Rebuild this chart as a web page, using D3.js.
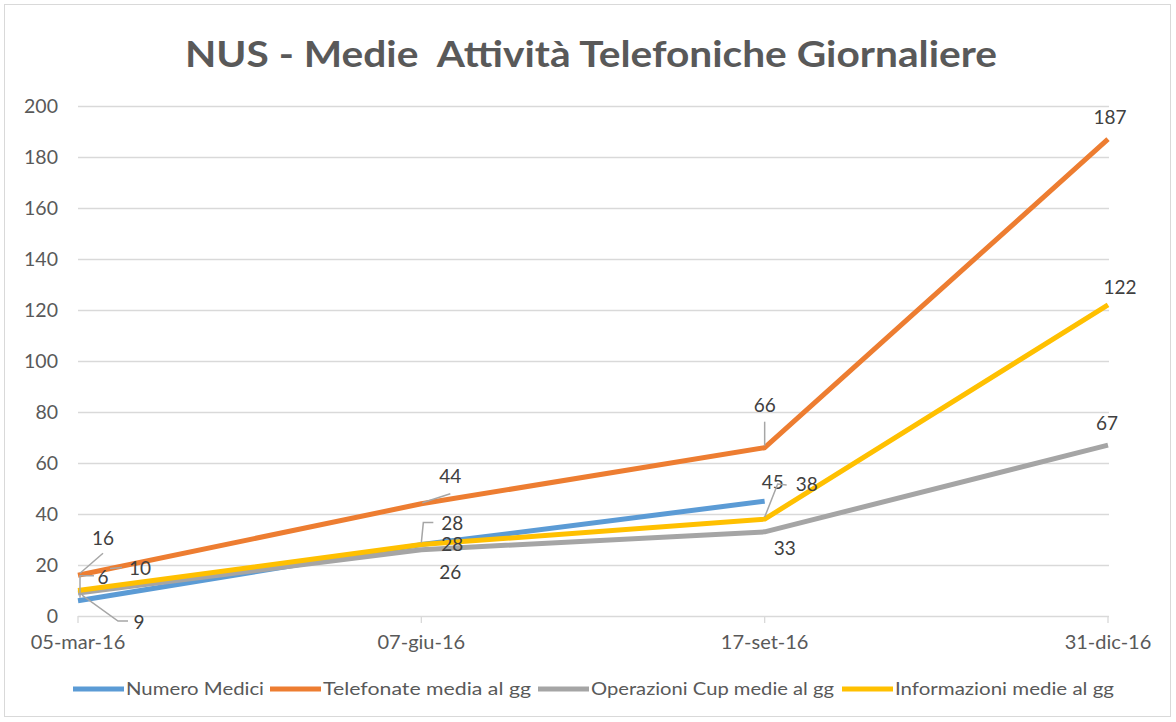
<!DOCTYPE html>
<html><head><meta charset="utf-8">
<script src="https://cdn.jsdelivr.net/npm/d3@7/dist/d3.min.js"></script>
<style>
html,body{margin:0;padding:0;background:#fff;}
svg{display:block;font-family:Lato,"Open Sans",sans-serif;}
</style></head>
<body>
<svg id="c" width="1176" height="722"></svg>
<script>
const categories = ["05-mar-16","07-giu-16","17-set-16","31-dic-16"];
const yTicks = [0,20,40,60,80,100,120,140,160,180,200];
const seriesNames = ["Numero Medici","Telefonate media al gg","Operazioni Cup medie al gg","Informazioni medie al gg"];
const numeroMedici = [6,28,45,null];
const telefonate = [16,44,66,187];
const operazioniCup = [9,26,33,67];
const informazioni = [10,28,38,122];
const title = "NUS - Medie  Attività Telefoniche Giornaliere";

const colors = ["#5B9BD5","#ED7D31","#A5A5A5","#FFC000"];
const allValues = [numeroMedici, telefonate, operazioniCup, informazioni];

// label placement offsets (dx,dy of label centre from point) and leader lines (relative to point)
const labelCfg = {
  "0-0":{dx:25,dy:-23,leader:[[2,-3],[2,-25],[16,-25]]},
  "0-1":{dx:31,dy:-21,leader:[[0,-2],[2,-22],[12,-22]]},
  "0-2":{dx:8,dy:-19},
  "1-0":{dx:25,dy:-37,leader:[[2,-2],[25,-22]]},
  "1-1":{dx:29,dy:-27,leader:[[1,-1],[29,-10]]},
  "1-2":{dx:0,dy:-42,leader:[[0,-2],[0,-26]]},
  "1-3":{dx:2,dy:-22},
  "2-0":{dx:61,dy:29,leader:[[4,2],[40,28],[50,28]]},
  "2-1":{dx:29,dy:23},
  "2-2":{dx:20,dy:16},
  "2-3":{dx:-1,dy:-22},
  "3-0":{dx:62,dy:-22,leader:[[32,-22],[44,-23]]},
  "3-1":{dx:31,dy:0},
  "3-2":{dx:42,dy:-35,leader:[[0,-2],[13,-35],[22,-34]]},
  "3-3":{dx:12,dy:-18}
};

const svg = d3.select("#c");
svg.append("rect").attr("x",4.5).attr("y",4.5).attr("width",1166).attr("height",712)
  .attr("fill","#fff").attr("stroke","#d9d9d9").attr("stroke-width",1);

const x = d3.scalePoint().domain(categories).range([78,1108]);
const y = d3.scaleLinear().domain([0,200]).range([616,106]);

// title
svg.append("text").attr("x",591).attr("y",67).attr("text-anchor","middle")
  .attr("font-size",37).attr("font-weight","bold").attr("fill","#595959")
  .attr("textLength",812).attr("lengthAdjust","spacingAndGlyphs")
  .attr("xml:space","preserve").text(title);

// gridlines
svg.append("g").selectAll("line").data(yTicks).join("line")
  .attr("x1",78).attr("x2",1109).attr("y1",d=>y(d)+0.5).attr("y2",d=>y(d)+0.5)
  .attr("stroke","#d9d9d9").attr("stroke-width",1.3);

// y axis labels
svg.append("g").selectAll("text").data(yTicks).join("text")
  .attr("x",58).attr("y",d=>y(d)).attr("dy","0.35em").attr("text-anchor","end")
  .attr("font-size",19.5).attr("fill","#595959").text(d=>d);

// x axis ticks & labels
const xg = svg.append("g");
xg.selectAll("line").data(categories).join("line")
  .attr("x1",d=>x(d)).attr("x2",d=>x(d)).attr("y1",y(0)).attr("y2",y(0)+7)
  .attr("stroke","#d9d9d9").attr("stroke-width",1.3);
xg.selectAll("text").data(categories).join("text")
  .attr("x",d=>x(d)).attr("y",649).attr("text-anchor","middle")
  .attr("font-size",20).attr("fill","#595959").text(d=>d);

// lines
const line = d3.line().defined(d=>d.v!=null).x(d=>x(d.c)).y(d=>y(d.v));
allValues.forEach((vals,i)=>{
  const pts = categories.map((c,j)=>({c, v: vals[j]}));
  svg.append("path").datum(pts).attr("d",line).attr("fill","none")
    .attr("stroke",colors[i]).attr("stroke-width",5).attr("stroke-linejoin","round");
});

// labels & leaders
const lg = svg.append("g");
allValues.forEach((vals,i)=>{
  vals.forEach((v,j)=>{
    if(v==null) return;
    const cfg = labelCfg[i+"-"+j];
    const px = x(categories[j]), py = y(v);
    if(cfg.leader){
      lg.append("polyline").attr("points",cfg.leader.map(p=>[px+p[0],py+p[1]].join(",")).join(" "))
        .attr("fill","none").attr("stroke","#a6a6a6").attr("stroke-width",1.5);
    }
    lg.append("text").attr("x",px+cfg.dx).attr("y",py+cfg.dy).attr("dy","0.35em")
      .attr("text-anchor","middle").attr("font-size",19).attr("fill","#404040").text(v);
  });
});

// legend
const legendX = [73,270,538,842];
const legendW = [138,208,243,219];
const leg = svg.append("g");
seriesNames.forEach((n,i)=>{
  leg.append("line").attr("x1",legendX[i]).attr("x2",legendX[i]+51).attr("y1",689).attr("y2",689)
    .attr("stroke",colors[i]).attr("stroke-width",5);
  leg.append("text").attr("x",legendX[i]+53).attr("y",689).attr("dy","0.35em")
    .attr("font-size",18).attr("fill","#595959")
    .attr("textLength",legendW[i]).attr("lengthAdjust","spacingAndGlyphs").text(n);
});
</script>
</body></html>
